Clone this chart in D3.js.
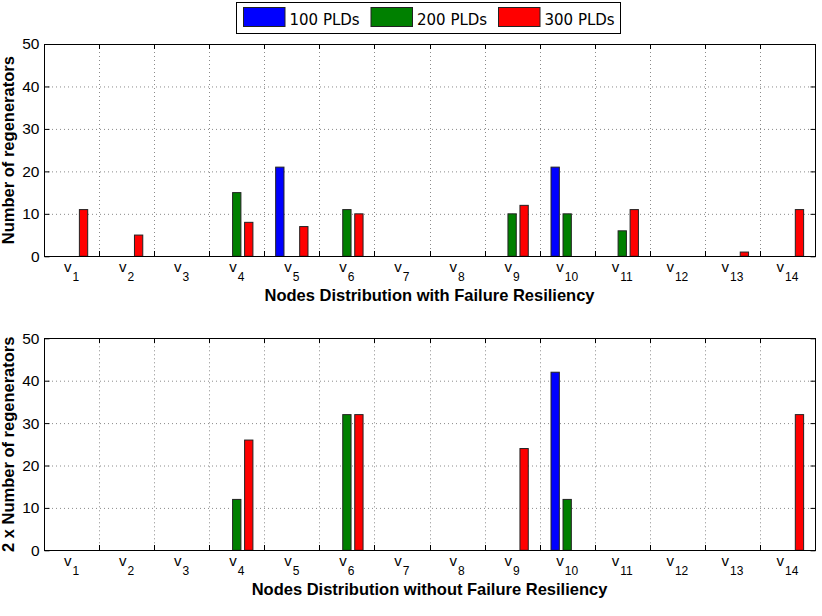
<!DOCTYPE html>
<html><head><meta charset="utf-8">
<script src="https://cdn.jsdelivr.net/npm/d3@7"></script>
<style>
body{margin:0;background:#fff;}
svg{display:block;}
</style></head><body>
<svg id="c" width="822" height="616"></svg>
<script>
const categories = ["1","2","3","4","5","6","7","8","9","10","11","12","13","14"];
const seriesNames = ["100 PLDs","200 PLDs","300 PLDs"];
const seriesColors = ["#0000ff","#008000","#ff0000"];
const yTicks = [0,10,20,30,40,50];

// Top chart: with failure resiliency
const top100 = [0,0,0,0,21,0,0,0,0,21,0,0,0,0];
const top200 = [0,0,0,15,0,11,0,0,10,10,6,0,0,0];
const top300 = [11,5,0,8,7,10,0,0,12,0,11,0,1,11];
// Bottom chart: without failure resiliency
const bot100 = [0,0,0,0,0,0,0,0,0,42,0,0,0,0];
const bot200 = [0,0,0,12,0,32,0,0,0,12,0,0,0,0];
const bot300 = [0,0,0,26,0,32,0,0,24,0,0,0,0,32];

const svg = d3.select("#c");
const SANS = "'Liberation Sans', Arial, Helvetica, sans-serif";

function panel(top, bottom, series, yLabel, xLabel){
  const left = 44, right = 815;
  const g = svg.append("g");
  const x = d3.scaleBand().domain(categories).range([left, right]).padding(0);
  const y = d3.scaleLinear().domain([0,50]).range([bottom, top]);
  const bw = x.bandwidth();
  const xs = d3.scaleBand().domain(seriesNames).range([-0.327*bw, 0.327*bw])
      .paddingInner(0.308).paddingOuter(0.154);

  // grid horizontal
  g.append("g").selectAll("line").data(yTicks.filter(v=>v>0 && v<50)).join("line")
    .attr("x1", left).attr("x2", right)
    .attr("y1", d=>y(d)+0.5).attr("y2", d=>y(d)+0.5)
    .attr("stroke","#8a8a8a").attr("stroke-width",1).attr("stroke-dasharray","1,3");
  // grid vertical at category boundaries
  const bounds = categories.slice(1).map(c=>Math.round(x(c))+0.5);
  g.append("g").selectAll("line").data(bounds).join("line")
    .attr("x1", d=>d).attr("x2", d=>d)
    .attr("y1", top).attr("y2", bottom)
    .attr("stroke","#8a8a8a").attr("stroke-width",1).attr("stroke-dasharray","1,3");

  // bars
  series.forEach((vals, si)=>{
    g.append("g").selectAll("rect")
      .data(vals.map((v,i)=>({c:categories[i], v})).filter(d=>d.v>0))
      .join("rect")
      .attr("x", d=> x(d.c) + bw/2 + xs(seriesNames[si]))
      .attr("width", xs.bandwidth())
      .attr("y", d=> y(d.v))
      .attr("height", d=> y(0) - y(d.v))
      .attr("fill", seriesColors[si])
      .attr("stroke","#222").attr("stroke-width",1);
  });

  // axes box
  g.append("rect").attr("x", left+0.5).attr("y", Math.round(top)+0.5)
    .attr("width", right-left).attr("height", Math.round(bottom)-Math.round(top))
    .attr("fill","none").attr("stroke","#000").attr("stroke-width",1);

  // y axis left & right with inward ticks
  const yl = g.append("g").attr("transform",`translate(${left+0.5},0)`)
    .call(d3.axisLeft(y).tickValues(yTicks).tickSizeInner(-5).tickSizeOuter(0).tickPadding(5));
  yl.select(".domain").remove();
  yl.selectAll("text").attr("font-family",SANS).attr("font-size",15.5).attr("fill","#000");
  yl.selectAll("line").attr("stroke","#000");
  const yr = g.append("g").attr("transform",`translate(${right+0.5},0)`)
    .call(d3.axisRight(y).tickValues(yTicks).tickSizeInner(-5).tickSizeOuter(0).tickFormat(""));
  yr.select(".domain").remove();
  yr.selectAll("line").attr("stroke","#000");

  // x ticks at boundaries top and bottom (inward)
  g.append("g").selectAll("line").data(bounds).join("line")
    .attr("x1", d=>d).attr("x2", d=>d)
    .attr("y1", Math.round(bottom)).attr("y2", Math.round(bottom)-5)
    .attr("stroke","#000");
  g.append("g").selectAll("line").data(bounds).join("line")
    .attr("x1", d=>d).attr("x2", d=>d)
    .attr("y1", Math.round(top)).attr("y2", Math.round(top)+5)
    .attr("stroke","#000");

  // x tick labels v_i
  const lab = g.append("g").selectAll("text").data(categories).join("text")
    .attr("x", d=> x(d)+bw/2).attr("y", bottom+16)
    .attr("text-anchor","middle").attr("font-family",SANS).attr("fill","#000");
  lab.append("tspan").attr("font-size",15).text("v");
  lab.append("tspan").attr("font-size",12).attr("dx",1).attr("dy",9).text(d=>d);

  // x label
  g.append("text").attr("x",(left+right)/2).attr("y", bottom+44.3)
    .attr("text-anchor","middle").attr("font-family",SANS).attr("font-weight","bold")
    .attr("font-size",16.5).text(xLabel);
  // y label
  g.append("text").attr("transform",`translate(14,${(top+bottom)/2}) rotate(-90)`)
    .attr("text-anchor","middle").attr("font-family",SANS).attr("font-weight","bold")
    .attr("font-size",16.5).text(yLabel);
}

panel(44, 256.3, [top100, top200, top300], "Number of regenerators", "Nodes Distribution with Failure Resiliency");
panel(338.3, 550.3, [bot100, bot200, bot300], "2 x Number of regenerators", "Nodes Distribution without Failure Resiliency");

// legend
const lg = svg.append("g");
lg.append("rect").attr("x",236.5).attr("y",2.5).attr("width",384).attr("height",31)
  .attr("fill","#fff").attr("stroke","#000").attr("stroke-width",1);
const legX = [243.5, 371, 498.5];
seriesNames.forEach((n,i)=>{
  lg.append("rect").attr("x",legX[i]).attr("y",7.5).attr("width",41.5).attr("height",19)
    .attr("fill",seriesColors[i]).attr("stroke","#222").attr("stroke-width",1);
  lg.append("text").attr("x",legX[i]+46).attr("y",25)
    .attr("font-family","'DejaVu Sans', sans-serif").attr("font-size",15).attr("fill","#000").text(n);
});
</script>
</body></html>
